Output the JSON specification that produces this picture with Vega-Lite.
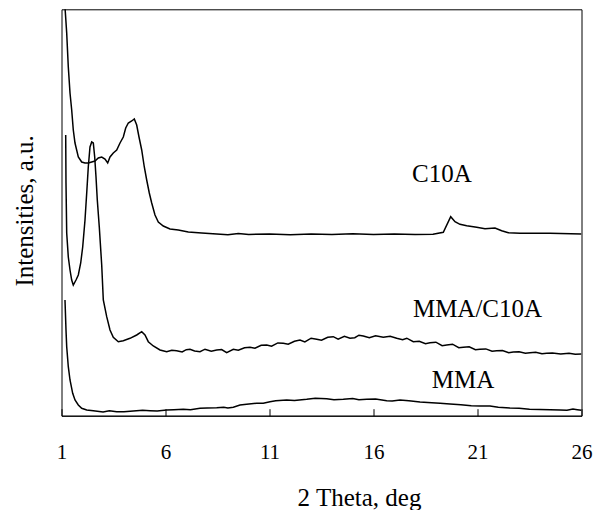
{
  "$schema": "https://vega.github.io/schema/vega-lite/v6.json",
  "autosize": "none",
  "width": 520,
  "height": 406.4,
  "padding": {"left": 61.5, "top": 9.3, "right": 19.5, "bottom": 94.3},
  "background": "white",
  "config": {
    "view": {"stroke": "black", "strokeWidth": 1},
    "font": "Liberation Serif"
  },
  "datasets": {
    "xrd": [
      {"s": "C10A", "t": 1.10, "i": 430},
      {"s": "C10A", "t": 1.25, "i": 382.7},
      {"s": "C10A", "t": 1.327, "i": 348.7},
      {"s": "C10A", "t": 1.409, "i": 322.7},
      {"s": "C10A", "t": 1.49, "i": 305.7},
      {"s": "C10A", "t": 1.567, "i": 285.7},
      {"s": "C10A", "t": 1.649, "i": 272.7},
      {"s": "C10A", "t": 1.808, "i": 258.7},
      {"s": "C10A", "t": 1.971, "i": 253.7},
      {"s": "C10A", "t": 2.13, "i": 252.7},
      {"s": "C10A", "t": 2.288, "i": 252.7},
      {"s": "C10A", "t": 2.452, "i": 253.7},
      {"s": "C10A", "t": 2.611, "i": 254.7},
      {"s": "C10A", "t": 2.769, "i": 257.7},
      {"s": "C10A", "t": 2.933, "i": 258.7},
      {"s": "C10A", "t": 3.091, "i": 256.7},
      {"s": "C10A", "t": 3.221, "i": 252.7},
      {"s": "C10A", "t": 3.332, "i": 258.7},
      {"s": "C10A", "t": 3.49, "i": 262.7},
      {"s": "C10A", "t": 3.654, "i": 265.7},
      {"s": "C10A", "t": 3.813, "i": 272.7},
      {"s": "C10A", "t": 3.971, "i": 278.7},
      {"s": "C10A", "t": 4.087, "i": 287.7},
      {"s": "C10A", "t": 4.212, "i": 292.7},
      {"s": "C10A", "t": 4.375, "i": 294.7},
      {"s": "C10A", "t": 4.5, "i": 296.7},
      {"s": "C10A", "t": 4.615, "i": 290.7},
      {"s": "C10A", "t": 4.726, "i": 278.7},
      {"s": "C10A", "t": 4.856, "i": 265.7},
      {"s": "C10A", "t": 4.981, "i": 248.7},
      {"s": "C10A", "t": 5.096, "i": 235.7},
      {"s": "C10A", "t": 5.221, "i": 222.7},
      {"s": "C10A", "t": 5.337, "i": 212.7},
      {"s": "C10A", "t": 5.495, "i": 200.7},
      {"s": "C10A", "t": 5.654, "i": 193.7},
      {"s": "C10A", "t": 5.894, "i": 189.7},
      {"s": "C10A", "t": 6.216, "i": 186.7},
      {"s": "C10A", "t": 6.615, "i": 185.7},
      {"s": "C10A", "t": 7.096, "i": 183.7},
      {"s": "C10A", "t": 7.74, "i": 182.7},
      {"s": "C10A", "t": 8.462, "i": 181.7},
      {"s": "C10A", "t": 9.0, "i": 181.0},
      {"s": "C10A", "t": 9.5, "i": 182.2},
      {"s": "C10A", "t": 10.0, "i": 181.3},
      {"s": "C10A", "t": 11.0, "i": 181.8},
      {"s": "C10A", "t": 12.0, "i": 181.0},
      {"s": "C10A", "t": 13.0, "i": 181.6},
      {"s": "C10A", "t": 14.0, "i": 181.2},
      {"s": "C10A", "t": 15.0, "i": 181.9},
      {"s": "C10A", "t": 16.0, "i": 181.3},
      {"s": "C10A", "t": 17.0, "i": 181.7},
      {"s": "C10A", "t": 18.0, "i": 181.1},
      {"s": "C10A", "t": 18.86, "i": 181.4},
      {"s": "C10A", "t": 19.356, "i": 183.4},
      {"s": "C10A", "t": 19.712, "i": 199.0},
      {"s": "C10A", "t": 19.918, "i": 194.0},
      {"s": "C10A", "t": 20.159, "i": 191.4},
      {"s": "C10A", "t": 20.481, "i": 190.0},
      {"s": "C10A", "t": 20.962, "i": 188.4},
      {"s": "C10A", "t": 21.361, "i": 187.0},
      {"s": "C10A", "t": 21.841, "i": 187.7},
      {"s": "C10A", "t": 22.163, "i": 185.0},
      {"s": "C10A", "t": 22.481, "i": 183.0},
      {"s": "C10A", "t": 23.043, "i": 182.4},
      {"s": "C10A", "t": 24.486, "i": 182.4},
      {"s": "C10A", "t": 26.0, "i": 181.7},

      {"s": "MMA/C10A", "t": 1.202, "i": 280.7},
      {"s": "MMA/C10A", "t": 1.216, "i": 232.7},
      {"s": "MMA/C10A", "t": 1.25, "i": 182.7},
      {"s": "MMA/C10A", "t": 1.327, "i": 158.7},
      {"s": "MMA/C10A", "t": 1.409, "i": 145.7},
      {"s": "MMA/C10A", "t": 1.49, "i": 135.7},
      {"s": "MMA/C10A", "t": 1.567, "i": 130.7},
      {"s": "MMA/C10A", "t": 1.697, "i": 135.7},
      {"s": "MMA/C10A", "t": 1.808, "i": 140.7},
      {"s": "MMA/C10A", "t": 1.923, "i": 152.7},
      {"s": "MMA/C10A", "t": 2.019, "i": 168.7},
      {"s": "MMA/C10A", "t": 2.13, "i": 195.7},
      {"s": "MMA/C10A", "t": 2.212, "i": 222.7},
      {"s": "MMA/C10A", "t": 2.288, "i": 248.7},
      {"s": "MMA/C10A", "t": 2.37, "i": 268.7},
      {"s": "MMA/C10A", "t": 2.452, "i": 273.7},
      {"s": "MMA/C10A", "t": 2.529, "i": 272.7},
      {"s": "MMA/C10A", "t": 2.596, "i": 258.7},
      {"s": "MMA/C10A", "t": 2.659, "i": 238.7},
      {"s": "MMA/C10A", "t": 2.721, "i": 215.7},
      {"s": "MMA/C10A", "t": 2.817, "i": 188.7},
      {"s": "MMA/C10A", "t": 2.933, "i": 150.7},
      {"s": "MMA/C10A", "t": 3.01, "i": 115.7},
      {"s": "MMA/C10A", "t": 3.173, "i": 99.0},
      {"s": "MMA/C10A", "t": 3.332, "i": 85.7},
      {"s": "MMA/C10A", "t": 3.49, "i": 78.4},
      {"s": "MMA/C10A", "t": 3.731, "i": 74.0},
      {"s": "MMA/C10A", "t": 3.971, "i": 75.0},
      {"s": "MMA/C10A", "t": 4.293, "i": 77.4},
      {"s": "MMA/C10A", "t": 4.615, "i": 80.7},
      {"s": "MMA/C10A", "t": 4.856, "i": 84.0},
      {"s": "MMA/C10A", "t": 5.014, "i": 80.7},
      {"s": "MMA/C10A", "t": 5.173, "i": 74.0},
      {"s": "MMA/C10A", "t": 5.413, "i": 69.7},
      {"s": "MMA/C10A", "t": 5.736, "i": 65.7},
      {"s": "MMA/C10A", "t": 6.058, "i": 64.0},
      {"s": "MMA/C10A", "t": 6.3, "i": 65.5},
      {"s": "MMA/C10A", "t": 6.538, "i": 65.0},
      {"s": "MMA/C10A", "t": 6.8, "i": 63.8},
      {"s": "MMA/C10A", "t": 7.0, "i": 66.0},
      {"s": "MMA/C10A", "t": 7.178, "i": 66.4},
      {"s": "MMA/C10A", "t": 7.4, "i": 64.8},
      {"s": "MMA/C10A", "t": 7.659, "i": 64.0},
      {"s": "MMA/C10A", "t": 7.9, "i": 66.5},
      {"s": "MMA/C10A", "t": 8.2, "i": 64.5},
      {"s": "MMA/C10A", "t": 8.462, "i": 65.7},
      {"s": "MMA/C10A", "t": 8.7, "i": 66.2},
      {"s": "MMA/C10A", "t": 8.942, "i": 63.0},
      {"s": "MMA/C10A", "t": 9.26, "i": 66.4},
      {"s": "MMA/C10A", "t": 9.5, "i": 65.5},
      {"s": "MMA/C10A", "t": 9.8, "i": 68.0},
      {"s": "MMA/C10A", "t": 10.063, "i": 68.4},
      {"s": "MMA/C10A", "t": 10.3, "i": 67.5},
      {"s": "MMA/C10A", "t": 10.6, "i": 70.5},
      {"s": "MMA/C10A", "t": 10.865, "i": 70.7},
      {"s": "MMA/C10A", "t": 11.1, "i": 69.5},
      {"s": "MMA/C10A", "t": 11.4, "i": 72.8},
      {"s": "MMA/C10A", "t": 11.663, "i": 72.4},
      {"s": "MMA/C10A", "t": 11.9, "i": 71.5},
      {"s": "MMA/C10A", "t": 12.2, "i": 74.5},
      {"s": "MMA/C10A", "t": 12.466, "i": 75.7},
      {"s": "MMA/C10A", "t": 12.7, "i": 73.8},
      {"s": "MMA/C10A", "t": 13.0, "i": 77.5},
      {"s": "MMA/C10A", "t": 13.269, "i": 76.4},
      {"s": "MMA/C10A", "t": 13.5, "i": 75.5},
      {"s": "MMA/C10A", "t": 13.8, "i": 78.5},
      {"s": "MMA/C10A", "t": 14.067, "i": 79.0},
      {"s": "MMA/C10A", "t": 14.3, "i": 76.5},
      {"s": "MMA/C10A", "t": 14.6, "i": 79.5},
      {"s": "MMA/C10A", "t": 14.87, "i": 77.4},
      {"s": "MMA/C10A", "t": 15.1, "i": 78.0},
      {"s": "MMA/C10A", "t": 15.3, "i": 80.5},
      {"s": "MMA/C10A", "t": 15.51, "i": 79.7},
      {"s": "MMA/C10A", "t": 15.8, "i": 78.0},
      {"s": "MMA/C10A", "t": 16.1, "i": 80.0},
      {"s": "MMA/C10A", "t": 16.471, "i": 78.4},
      {"s": "MMA/C10A", "t": 16.8, "i": 79.5},
      {"s": "MMA/C10A", "t": 17.115, "i": 77.4},
      {"s": "MMA/C10A", "t": 17.4, "i": 76.0},
      {"s": "MMA/C10A", "t": 17.6, "i": 77.5},
      {"s": "MMA/C10A", "t": 17.913, "i": 74.0},
      {"s": "MMA/C10A", "t": 18.2, "i": 74.5},
      {"s": "MMA/C10A", "t": 18.5, "i": 72.0},
      {"s": "MMA/C10A", "t": 18.716, "i": 73.0},
      {"s": "MMA/C10A", "t": 19.0, "i": 73.5},
      {"s": "MMA/C10A", "t": 19.3, "i": 70.0},
      {"s": "MMA/C10A", "t": 19.519, "i": 70.7},
      {"s": "MMA/C10A", "t": 19.8, "i": 71.5},
      {"s": "MMA/C10A", "t": 20.1, "i": 68.0},
      {"s": "MMA/C10A", "t": 20.317, "i": 68.4},
      {"s": "MMA/C10A", "t": 20.6, "i": 69.0},
      {"s": "MMA/C10A", "t": 20.9, "i": 66.0},
      {"s": "MMA/C10A", "t": 21.12, "i": 66.4},
      {"s": "MMA/C10A", "t": 21.4, "i": 66.8},
      {"s": "MMA/C10A", "t": 21.7, "i": 64.5},
      {"s": "MMA/C10A", "t": 21.923, "i": 65.0},
      {"s": "MMA/C10A", "t": 22.2, "i": 65.2},
      {"s": "MMA/C10A", "t": 22.5, "i": 63.0},
      {"s": "MMA/C10A", "t": 22.721, "i": 63.7},
      {"s": "MMA/C10A", "t": 23.0, "i": 64.0},
      {"s": "MMA/C10A", "t": 23.3, "i": 62.5},
      {"s": "MMA/C10A", "t": 23.524, "i": 63.0},
      {"s": "MMA/C10A", "t": 23.8, "i": 63.5},
      {"s": "MMA/C10A", "t": 24.1, "i": 62.0},
      {"s": "MMA/C10A", "t": 24.327, "i": 62.4},
      {"s": "MMA/C10A", "t": 24.6, "i": 62.8},
      {"s": "MMA/C10A", "t": 25.0, "i": 61.8},
      {"s": "MMA/C10A", "t": 25.4, "i": 62.5},
      {"s": "MMA/C10A", "t": 25.7, "i": 61.5},
      {"s": "MMA/C10A", "t": 26.0, "i": 61.7},

      {"s": "MMA", "t": 1.168, "i": 115.7},
      {"s": "MMA", "t": 1.216, "i": 85.7},
      {"s": "MMA", "t": 1.25, "i": 69.0},
      {"s": "MMA", "t": 1.327, "i": 49.0},
      {"s": "MMA", "t": 1.409, "i": 35.7},
      {"s": "MMA", "t": 1.538, "i": 22.4},
      {"s": "MMA", "t": 1.649, "i": 15.7},
      {"s": "MMA", "t": 1.808, "i": 10.7},
      {"s": "MMA", "t": 1.971, "i": 7.4},
      {"s": "MMA", "t": 2.212, "i": 5.7},
      {"s": "MMA", "t": 2.529, "i": 5.0},
      {"s": "MMA", "t": 3.0, "i": 3.8},
      {"s": "MMA", "t": 3.3, "i": 5.0},
      {"s": "MMA", "t": 3.654, "i": 4.0},
      {"s": "MMA", "t": 4.0, "i": 4.0},
      {"s": "MMA", "t": 4.452, "i": 4.7},
      {"s": "MMA", "t": 4.9, "i": 5.5},
      {"s": "MMA", "t": 5.255, "i": 5.0},
      {"s": "MMA", "t": 5.6, "i": 4.6},
      {"s": "MMA", "t": 6.058, "i": 5.7},
      {"s": "MMA", "t": 6.4, "i": 6.0},
      {"s": "MMA", "t": 6.856, "i": 6.4},
      {"s": "MMA", "t": 7.2, "i": 6.0},
      {"s": "MMA", "t": 7.659, "i": 7.4},
      {"s": "MMA", "t": 8.0, "i": 7.6},
      {"s": "MMA", "t": 8.462, "i": 8.0},
      {"s": "MMA", "t": 8.8, "i": 8.5},
      {"s": "MMA", "t": 9.0, "i": 7.8},
      {"s": "MMA", "t": 9.26, "i": 8.4},
      {"s": "MMA", "t": 9.582, "i": 10.7},
      {"s": "MMA", "t": 9.9, "i": 11.5},
      {"s": "MMA", "t": 10.385, "i": 12.4},
      {"s": "MMA", "t": 10.7, "i": 12.5},
      {"s": "MMA", "t": 11.024, "i": 14.0},
      {"s": "MMA", "t": 11.3, "i": 15.0},
      {"s": "MMA", "t": 11.827, "i": 15.7},
      {"s": "MMA", "t": 12.2, "i": 15.2},
      {"s": "MMA", "t": 12.788, "i": 16.4},
      {"s": "MMA", "t": 13.2, "i": 17.5},
      {"s": "MMA", "t": 13.75, "i": 17.0},
      {"s": "MMA", "t": 14.1, "i": 16.0},
      {"s": "MMA", "t": 14.548, "i": 16.4},
      {"s": "MMA", "t": 15.0, "i": 17.2},
      {"s": "MMA", "t": 15.3, "i": 16.0},
      {"s": "MMA", "t": 15.673, "i": 16.4},
      {"s": "MMA", "t": 16.1, "i": 16.8},
      {"s": "MMA", "t": 16.635, "i": 15.0},
      {"s": "MMA", "t": 16.9, "i": 14.8},
      {"s": "MMA", "t": 17.274, "i": 15.7},
      {"s": "MMA", "t": 17.7, "i": 15.0},
      {"s": "MMA", "t": 18.236, "i": 13.7},
      {"s": "MMA", "t": 18.8, "i": 13.0},
      {"s": "MMA", "t": 19.2, "i": 12.5},
      {"s": "MMA", "t": 19.678, "i": 11.7},
      {"s": "MMA", "t": 20.2, "i": 11.0},
      {"s": "MMA", "t": 20.7, "i": 10.0},
      {"s": "MMA", "t": 21.12, "i": 9.7},
      {"s": "MMA", "t": 21.6, "i": 9.8},
      {"s": "MMA", "t": 22.0, "i": 8.4},
      {"s": "MMA", "t": 22.562, "i": 7.7},
      {"s": "MMA", "t": 23.0, "i": 7.5},
      {"s": "MMA", "t": 23.5, "i": 6.4},
      {"s": "MMA", "t": 24.005, "i": 6.2},
      {"s": "MMA", "t": 24.5, "i": 6.0},
      {"s": "MMA", "t": 24.966, "i": 5.7},
      {"s": "MMA", "t": 25.3, "i": 5.5},
      {"s": "MMA", "t": 25.591, "i": 6.7},
      {"s": "MMA", "t": 25.8, "i": 6.0},
      {"s": "MMA", "t": 26.0, "i": 5.4}
    ],
    "labels": [
      {"label": "C10A", "t": 19.29, "i": 233.7},
      {"label": "MMA/C10A", "t": 21.0, "i": 98.7},
      {"label": "MMA", "t": 20.3, "i": 27.7}
    ]
  },
  "layer": [
    {
      "data": {"name": "xrd"},
      "mark": {"type": "line", "color": "black", "strokeWidth": 1.5, "clip": true},
      "encoding": {
        "x": {
          "field": "t", "type": "quantitative",
          "scale": {"domain": [1, 26], "nice": false, "zero": false},
          "axis": {
            "values": [1, 6, 11, 16, 21, 26],
            "grid": false,
            "domainColor": "black", "domainWidth": 1,
            "tickColor": "black", "tickWidth": 1, "tickSize": -7,
            "labelFont": "Liberation Serif", "labelFontSize": 21, "labelColor": "black",
            "labelPadding": 33, "labelFlush": false, "labelOverlap": false,
            "title": "2 Theta, deg",
            "titleFont": "Liberation Serif", "titleFontSize": 25, "titleFontWeight": "normal", "titleColor": "black",
            "titleAlign": "center", "titleBaseline": "alphabetic",
            "titleX": 297.5, "titleY": 89.3
          }
        },
        "y": {
          "field": "i", "type": "quantitative",
          "scale": {"domain": [0, 406.4], "nice": false, "zero": true},
          "axis": {
            "domain": false, "ticks": false, "labels": false, "grid": false,
            "title": "Intensities, a.u.",
            "titleFont": "Liberation Serif", "titleFontSize": 25, "titleFontWeight": "normal", "titleColor": "black",
            "titleAngle": -90, "titleAlign": "left", "titleBaseline": "alphabetic",
            "titleX": -28.8, "titleY": 276.7
          }
        },
        "detail": {"field": "s", "type": "nominal"}
      }
    },
    {
      "data": {"name": "labels"},
      "mark": {"type": "text", "font": "Liberation Serif", "fontSize": 25, "color": "black", "align": "center", "baseline": "alphabetic"},
      "encoding": {
        "x": {"field": "t", "type": "quantitative"},
        "y": {"field": "i", "type": "quantitative"},
        "text": {"field": "label", "type": "nominal"}
      }
    }
  ]
}
